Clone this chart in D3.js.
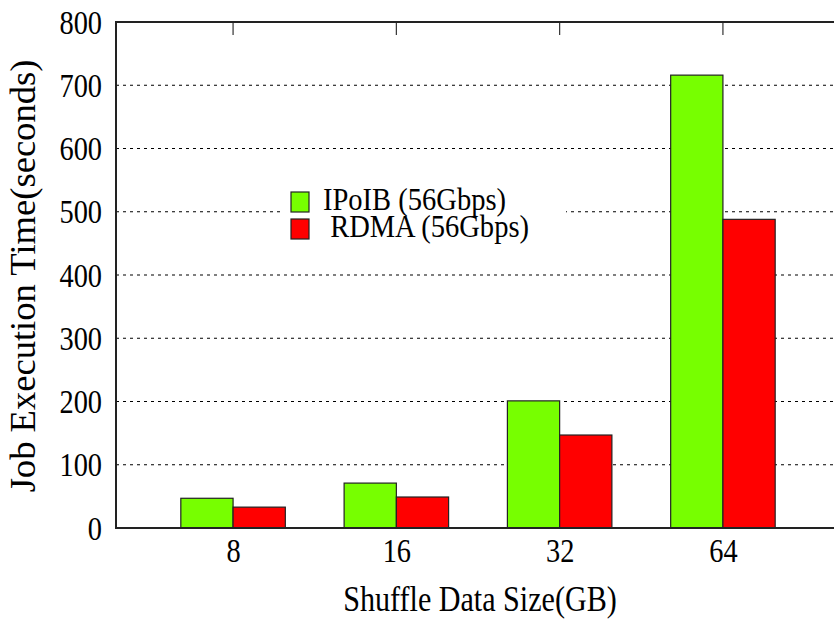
<!DOCTYPE html>
<html>
<head>
<meta charset="utf-8">
<script src="https://cdn.jsdelivr.net/npm/d3@7/dist/d3.min.js"></script>
<style>
	html, body { margin: 0; padding: 0; background: #fff; }
	svg text { font-family: "Liberation Serif", "Times New Roman", serif; fill: #000; }
</style>
</head>
<body>
<svg id="chart" width="834" height="621"></svg>
<script>
// data
const sizes = ['8', '16', '32', '64']
const ipoib = [47, 71, 201, 716]
const rdma = [33, 49, 147, 488]
const series = [
	{ name: 'IPoIB (56Gbps)', values: ipoib, color: '#77ff00' },
	{ name: ' RDMA (56Gbps)', values: rdma, color: '#ff0000' }
]
const yTicks = [0, 100, 200, 300, 400, 500, 600, 700, 800]

const margin = { top: 22, left: 116 }
const width = 724   // right frame falls just past the page edge
const height = 506

// squeeze glyphs horizontally, the source fonts look tall and narrow
const squeeze = (sel, k) => {
	sel.each(function () {
		const w = this.getComputedTextLength()
		d3.select(this)
			.attr('textLength', w * k)
			.attr('lengthAdjust', 'spacingAndGlyphs')
	})
}

const svg = d3.select('#chart')
const g = svg.append('g')
	.attr('transform', `translate(${margin.left},${margin.top})`)

const x = d3.scalePoint()
	.domain(sizes)
	.range([0, width])
	.padding(0.717)

const y = d3.scaleLinear()
	.domain([0, 800])
	.range([height, 0])

const barW = x.step() * 0.32

// dotted grid
g.append('g')
	.selectAll('line')
	.data(yTicks.filter((v) => v > 0 && v < 800))
	.join('line')
		.attr('x1', 0)
		.attr('x2', width)
		.attr('y1', (d) => y(d))
		.attr('y2', (d) => y(d))
		.attr('stroke', '#000')
		.attr('stroke-width', 1.2)
		.attr('stroke-dasharray', '3,4')

// top ticks
g.append('g')
	.selectAll('line')
	.data(sizes)
	.join('line')
		.attr('x1', (d) => x(d))
		.attr('x2', (d) => x(d))
		.attr('y1', 0)
		.attr('y2', 13)
		.attr('stroke', '#333')
		.attr('stroke-width', 1.2)

// bars
series.forEach((s, i) => {
	g.append('g')
		.selectAll('rect')
		.data(s.values)
		.join('rect')
			.attr('x', (d, j) => x(sizes[j]) - barW + i * barW)
			.attr('y', (d) => y(d))
			.attr('width', barW)
			.attr('height', (d) => height - y(d))
			.attr('fill', s.color)
			.attr('stroke', '#222')
			.attr('stroke-width', 1.2)
})

// frame
g.append('path')
	.attr('d', `M${width},0H0V${height}H${width}`)
	.attr('fill', 'none')
	.attr('stroke', '#222')
	.attr('stroke-width', 2)

// y tick labels
const yAxis = g.append('g')
	.call(d3.axisLeft(y).tickValues(yTicks).tickSize(0).tickPadding(14))
yAxis.select('.domain').remove()
yAxis.selectAll('text')
	.attr('font-family', null)
	.attr('font-size', 33)
	.attr('dy', '0.34em')
	.call(squeeze, 0.86)

// x tick labels
const xAxis = g.append('g')
	.attr('transform', `translate(0,${height})`)
	.call(d3.axisBottom(x).tickSize(0).tickPadding(0))
xAxis.select('.domain').remove()
xAxis.selectAll('text')
	.attr('font-family', null)
	.attr('font-size', 33)
	.attr('dy', null)
	.attr('y', 34)
	.call(squeeze, 0.86)

// axis titles
svg.append('text')
	.attr('x', 480)
	.attr('y', 611)
	.attr('text-anchor', 'middle')
	.attr('font-size', 35)
	.text('Shuffle Data Size(GB)')
	.call(squeeze, 0.86)

svg.append('text')
	.attr('transform', 'translate(35,276) rotate(-90)')
	.attr('text-anchor', 'middle')
	.attr('font-size', 35)
	.text('Job Execution Time(seconds)')
	.call(squeeze, 1.045)

// legend
const legend = svg.append('g')
legend.append('rect')
	.attr('x', 284)
	.attr('y', 186)
	.attr('width', 282)
	.attr('height', 58)
	.attr('fill', '#fff')

const item = legend.selectAll('g.item')
	.data(series)
	.join('g')
		.attr('class', 'item')
		.attr('transform', (d, i) => `translate(291,${192 + i * 27})`)
item.append('rect')
	.attr('width', 18)
	.attr('height', 20)
	.attr('fill', (d) => d.color)
	.attr('stroke', '#222')
	.attr('stroke-width', 1.2)
item.append('text')
	.attr('x', 32)
	.attr('y', 18)
	.attr('font-size', 31)
	.style('white-space', 'pre')
	.text((d) => d.name)
	.call(squeeze, 0.92)
</script>
</body>
</html>
